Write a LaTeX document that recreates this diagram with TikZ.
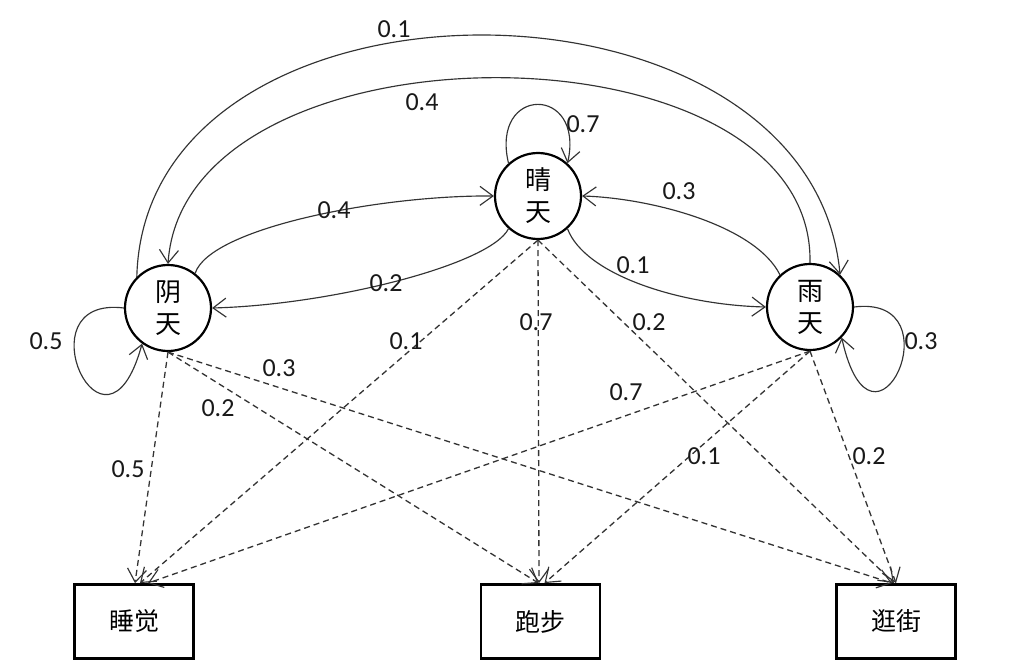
\documentclass[tikz,border=0pt]{standalone}
\usepackage{fontspec}
\setmainfont{Carlito}
\newfontfamily\cjk{Noto Sans CJK SC}
\usetikzlibrary{arrows.meta}
\begin{document}
\begin{tikzpicture}[x=1pt,y=-1pt,
 state/.style={circle,draw=black,line width=2.2pt,minimum size=86pt,inner sep=0pt,align=center,font=\cjk\fontsize{26}{32}\selectfont},
 obs/.style={rectangle,draw=black,line width=2.8pt,minimum width=119pt,minimum height=74pt,inner sep=0pt,font=\cjk\fontsize{25}{30}\selectfont},
 trans/.style={line width=1.15pt,draw=black!80,-{Straight Barb[length=13pt,width=19pt,line width=1.15pt]}},
 emit/.style={trans,line width=1.3pt,dash pattern=on 6pt off 4pt},
 lab/.style={inner sep=0pt,font=\fontsize{26}{30}\selectfont,text=black!90}]
\useasboundingbox[fill=white] (0,0) rectangle (1023,669);

\node[state] (yin) at (168,308) {阴\\天};
\node[state] (qing) at (538,196) {晴\\天};
\node[state] (yu) at (810,307) {雨\\天};

\node[obs] (sleep) at (134,621.5) {睡觉};
\node[obs] (run) at (540.5,621.5) {跑步};
\node[obs] (shop) at (896,621.5) {逛街};

% transitions
\draw[trans] (yin.135) .. controls (145,-45) and (810,-45) .. (yu.47);
\draw[trans] (yu.90) .. controls (815,17) and (185,15) .. (yin.90);
\draw[trans] (yin.52) .. controls (210,228) and (380,195) .. (qing.180);
\draw[trans] (qing.228) .. controls (490,265) and (330,305) .. (yin.0);
\draw[trans] (yu.133) .. controls (755,225) and (650,198) .. (qing.0);
\draw[trans] (qing.312) .. controls (585,275) and (680,305) .. (yu.180);
\draw[trans] (qing.132) .. controls (490,85) and (585,85) .. (qing.48);
\draw[trans] (yin.180) .. controls (20,295) and (105,480) .. (yin.234);
\draw[trans] (yu.0) .. controls (958,294) and (873,479) .. (yu.316);

% emissions
\draw[emit] (yin.south) -- ([xshift=1pt]sleep.north);
\draw[emit] (yin.south) -- ([xshift=-2pt]run.north);
\draw[emit] (yin.south) -- ([xshift=-4pt]shop.north);
\draw[emit] (qing.south) -- ([xshift=6pt]sleep.north);
\draw[emit] (qing.south) -- ([xshift=-1.5pt]run.north);
\draw[emit] (qing.south) -- ([xshift=-2pt]shop.north);
\draw[emit] (yu.south) -- ([xshift=14pt]sleep.north);
\draw[emit] (yu.south) -- ([xshift=4pt]run.north);
\draw[emit] (yu.south) -- (shop.north);

% labels
\node[lab] (l1) at (394,29) {0.1};
\node[lab] (l2) at (422,102) {0.4};
\node[lab] (l3) at (583,124) {0.7};
\node[lab] (l4) at (334,210) {0.4};
\node[lab] (l5) at (679,191) {0.3};
\node[lab] (l6) at (386,283) {0.2};
\node[lab] (l7) at (633,265) {0.1};
\node[lab] (l8) at (46,341) {0.5};
\node[lab] (l9) at (921,341) {0.3};
\node[lab] (d1) at (406,341) {0.1};
\node[lab] (d2) at (536,322) {0.7};
\node[lab] (d3) at (649,322) {0.2};
\node[lab] (d4) at (279,368) {0.3};
\node[lab] (d5) at (218,408) {0.2};
\node[lab] (d6) at (128,469) {0.5};
\node[lab] (d7) at (626,392) {0.7};
\node[lab] (d8) at (704,456) {0.1};
\node[lab] (d9) at (869,456) {0.2};
\end{tikzpicture}
\end{document}
